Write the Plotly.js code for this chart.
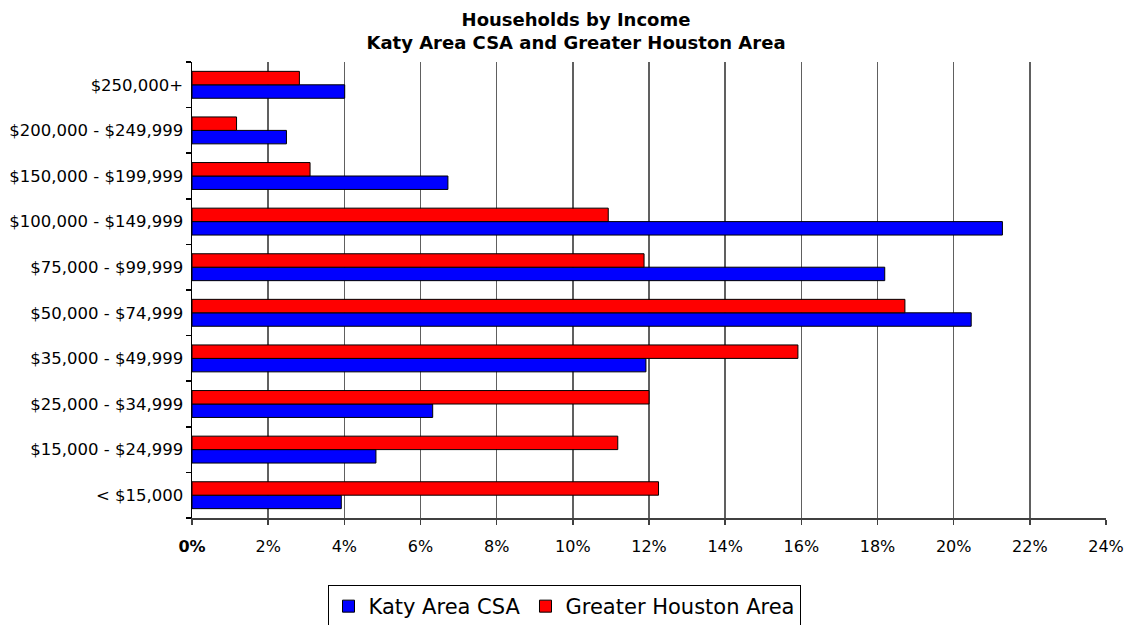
<!DOCTYPE html>
<html>
<head>
<meta charset="utf-8">
<script src="https://cdn.plot.ly/plotly-3.0.1.min.js"></script>
<style>
html,body{margin:0;padding:0;background:#fff;}
#chart{width:1128px;height:625px;}
</style>
</head>
<body>
<div id="chart"></div>
<script>
const categories = ["< $15,000", "$15,000 - $24,999", "$25,000 - $34,999", "$35,000 - $49,999",
  "$50,000 - $74,999", "$75,000 - $99,999", "$100,000 - $149,999", "$150,000 - $199,999",
  "$200,000 - $249,999", "$250,000+"];
const katyValues = [3.92, 4.83, 6.32, 11.92, 20.46, 18.19, 21.28, 6.72, 2.48, 4.01];
const houstonValues = [12.25, 11.18, 12.00, 15.91, 18.72, 11.87, 10.93, 3.10, 1.17, 2.82];
const xTickVals = [0, 2, 4, 6, 8, 10, 12, 14, 16, 18, 20, 22, 24];
const xTickText = ["<b>0%</b>", "2%", "4%", "6%", "8%", "10%", "12%", "14%", "16%", "18%", "20%", "22%", "24%"];

const FONT = "DejaVu Sans, Arial, sans-serif";

const traces = [
  {
    type: "bar", orientation: "h", name: "Katy Area CSA",
    y: categories, x: katyValues,
    marker: {color: "#0000FF", line: {color: "#000000", width: 1}},
    hoverinfo: "x+y+name"
  },
  {
    type: "bar", orientation: "h", name: "Greater Houston Area",
    y: categories, x: houstonValues,
    marker: {color: "#FF0000", line: {color: "#000000", width: 1}},
    hoverinfo: "x+y+name"
  }
];

const layout = {
  width: 1128, height: 625,
  paper_bgcolor: "#ffffff", plot_bgcolor: "#ffffff",
  font: {family: FONT, size: 16, color: "#000000"},
  margin: {l: 192, r: 22, t: 62, b: 107, pad: 0},
  title: {
    text: "<b>Households by Income<br>Katy Area CSA and Greater Houston Area</b>",
    font: {family: FONT, size: 18, color: "#000000"},
    x: 576 / 1128, xref: "container", xanchor: "center",
    y: 1 - 26 / 625, yref: "container", yanchor: "top"
  },
  barmode: "group",
  bargap: 0.41,
  bargroupgap: 0,
  xaxis: {
    range: [0, 24],
    tickvals: xTickVals, ticktext: xTickText,
    showgrid: true, gridcolor: "#606060", gridwidth: 1.5,
    showline: true, linecolor: "#404040", linewidth: 1.5,
    ticks: "outside", ticklen: 5, tickcolor: "#404040", tickwidth: 1.5,
    ticklabelstandoff: 8,
    zeroline: false, fixedrange: true,
    tickfont: {family: FONT, size: 16, color: "#000000"}
  },
  yaxis: {
    type: "category",
    categoryorder: "array", categoryarray: categories,
    showgrid: false,
    showline: true, linecolor: "#000000", linewidth: 1.5,
    ticks: "outside", ticklen: 5, tickcolor: "#000000", tickwidth: 1.5,
    tickson: "boundaries",
    ticklabelstandoff: 4,
    zeroline: false, fixedrange: true,
    tickfont: {family: FONT, size: 16.5, color: "#000000"}
  },
  showlegend: true,
  legend: {
    orientation: "h",
    x: 0.5, xref: "container", xanchor: "center",
    y: 1 - 585 / 625, yref: "container", yanchor: "top",
    bordercolor: "#000000", borderwidth: 1,
    font: {family: FONT, size: 21, color: "#000000"},
    itemwidth: 30,
    traceorder: "normal",
    bgcolor: "#ffffff"
  }
};

Plotly.newPlot("chart", traces, layout, {displayModeBar: false, staticPlot: true});
</script>
</body>
</html>
